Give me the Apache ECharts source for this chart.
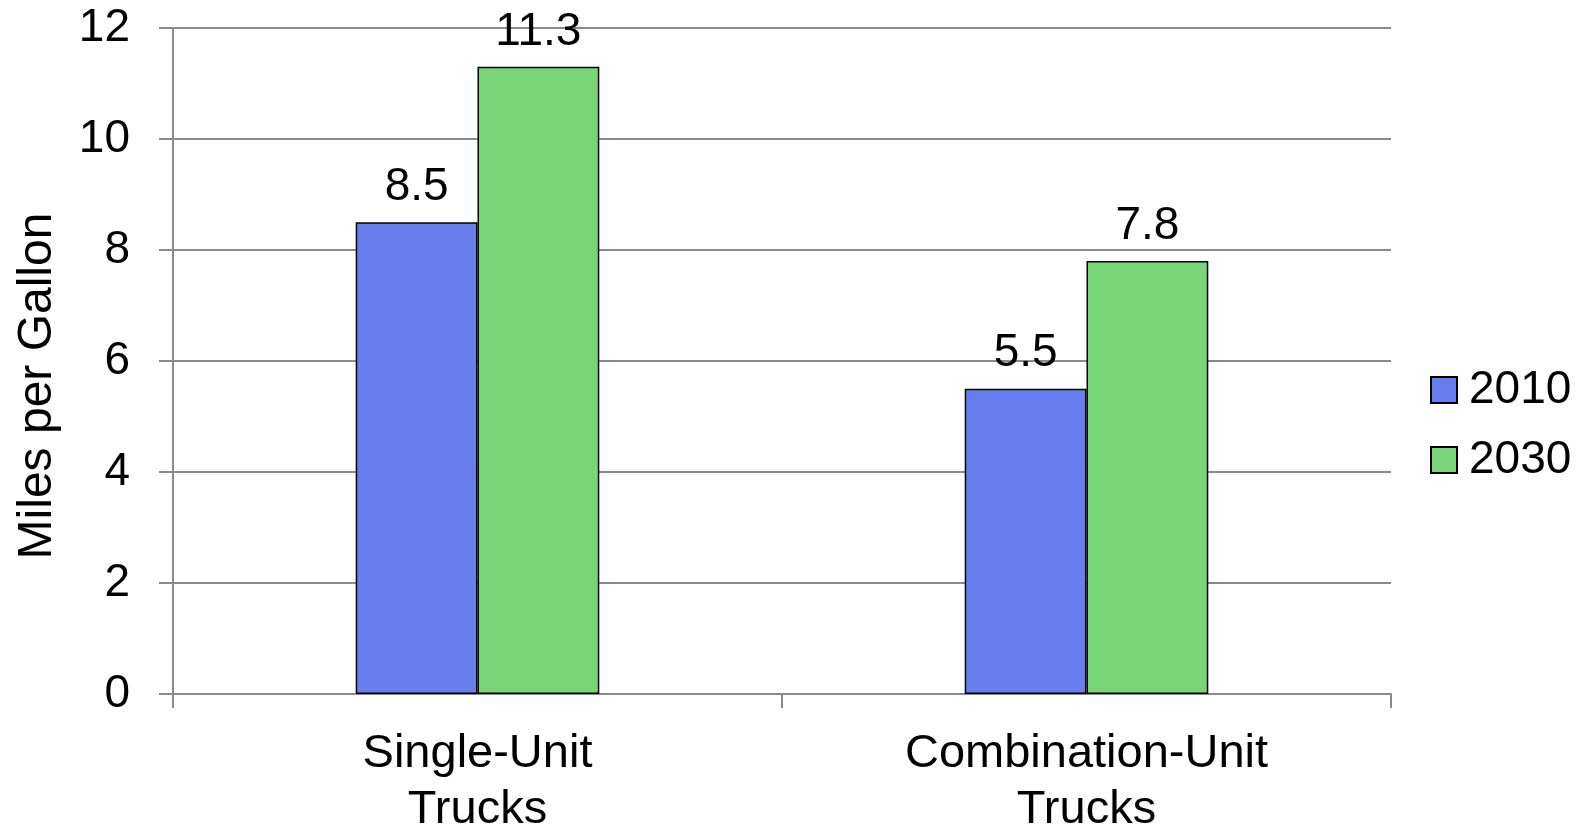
<!DOCTYPE html>
<html>
<head>
<meta charset="utf-8">
<script src="https://cdn.jsdelivr.net/npm/echarts@6/dist/echarts.min.js"></script>
<style>
html,body{margin:0;padding:0;background:#fff;}
#chart{width:1581px;height:826px;}
</style>
</head>
<body>
<div id="chart"></div>
<script>
const categories = ['Single-Unit\nTrucks', 'Combination-Unit\nTrucks'];
const seriesNames = ['2010', '2030'];
const values2010 = [8.5, 5.5];
const values2030 = [11.3, 7.8];
const yTicks = [0, 2, 4, 6, 8, 10, 12];
const yAxisTitle = 'Miles per Gallon';

const FONT = '"Liberation Sans", Arial, sans-serif';
const GRID_COLOR = '#8a8a8a';
const chart = echarts.init(document.getElementById('chart'));

function barSeries(name, data, color) {
  return {
    name: name,
    type: 'bar',
    data: data,
    barGap: '0%',
    barCategoryGap: '60%',
    itemStyle: { color: color, borderColor: '#000', borderWidth: 1.5 },
    label: {
      show: true,
      position: 'top',
      distance: 12,
      color: '#000',
      fontFamily: FONT,
      fontSize: 46,
      formatter: p => p.value.toFixed(1)
    }
  };
}

chart.setOption({
  animation: false,
  backgroundColor: '#fff',
  grid: { left: 173, right: 190, top: 28, bottom: 132, containLabel: false, outerBoundsMode: 'none' },
  legend: {
    orient: 'vertical',
    left: 1425,
    top: 362,
    padding: 5,
    itemWidth: 26,
    itemHeight: 26,
    itemGap: 24,
    icon: 'rect',
    textStyle: { fontFamily: FONT, fontSize: 46, color: '#000', padding: [0, 0, 0, 7] },
    data: seriesNames
  },
  xAxis: {
    type: 'category',
    data: categories,
    axisLine: { lineStyle: { color: GRID_COLOR, width: 2 } },
    axisTick: { show: true, length: 14, lineStyle: { color: GRID_COLOR, width: 2 } },
    axisLabel: { color: '#000', fontFamily: FONT, fontSize: 47, lineHeight: 56, margin: 32, interval: 0 }
  },
  yAxis: {
    type: 'value',
    min: yTicks[0],
    max: yTicks[yTicks.length - 1],
    interval: 2,
    axisLine: { show: true, lineStyle: { color: GRID_COLOR, width: 2 } },
    axisTick: { show: true, length: 14, lineStyle: { color: GRID_COLOR, width: 2 } },
    splitLine: { show: true, lineStyle: { color: GRID_COLOR, width: 2 } },
    axisLabel: { color: '#000', fontFamily: FONT, fontSize: 46, margin: 43 }
  },
  graphic: [{
    type: 'text',
    x: 38,
    y: 386,
    rotation: Math.PI / 2,
    style: {
      text: yAxisTitle,
      fontFamily: FONT,
      fontSize: 48,
      fill: '#000',
      align: 'center',
      verticalAlign: 'middle'
    }
  }],
  series: [
    barSeries(seriesNames[0], values2010, '#677eec'),
    barSeries(seriesNames[1], values2030, '#78d678')
  ]
});
</script>
</body>
</html>
